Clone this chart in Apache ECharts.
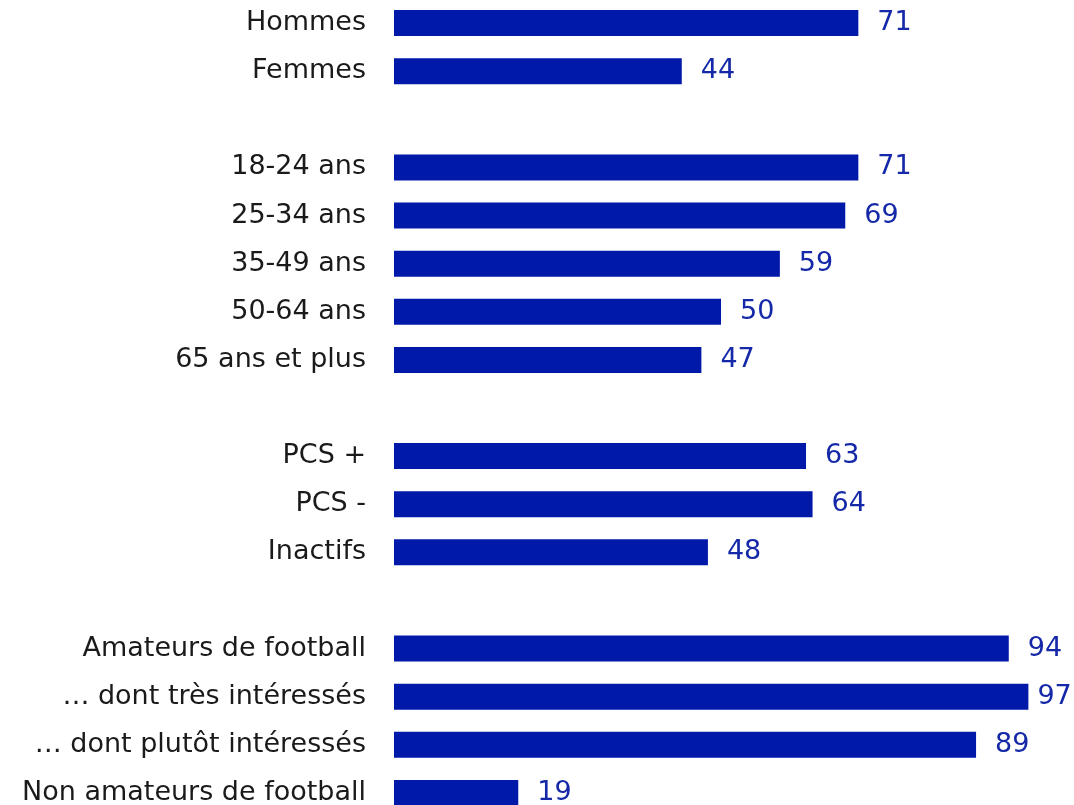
<!DOCTYPE html>
<html>
<head>
<meta charset="utf-8">
<script src="https://cdn.jsdelivr.net/npm/echarts@6/dist/echarts.min.js"></script>
<style>
  html, body { margin: 0; padding: 0; background: #ffffff; }
  #chart { width: 1074px; height: 805px; }
</style>
</head>
<body>
<div id="chart"></div>
<script>
// Rows from top to bottom; blank entries separate the groups
const categories = [
  'Hommes', 'Femmes', '',
  '18-24 ans', '25-34 ans', '35-49 ans', '50-64 ans', '65 ans et plus', ' ',
  'PCS +', 'PCS -', 'Inactifs', '  ',
  'Amateurs de football', '… dont très intéressés', '… dont plutôt intéressés', 'Non amateurs de football'
];
const values = [
  71, 44, null,
  71, 69, 59, 50, 47, null,
  63, 64, 48, null,
  94, 97, 89, 19
];

const BAR = '#0019a8';
const FONT = 'DejaVu Sans';

// labels of the longest bars sit closer so they stay inside the canvas
const seriesData = values.map(v =>
  v !== null && v > 95 ? { value: v, label: { distance: 9 } } : v
);

const chart = echarts.init(document.getElementById('chart'), null, { renderer: 'canvas' });
chart.setOption({
  animation: false,
  backgroundColor: '#ffffff',
  grid: {
    left: 394, width: 654, top: -1, height: 818,
    containLabel: false,
    outerBoundsMode: 'none'
  },
  xAxis: {
    type: 'value', min: 0, max: 100,
    show: false
  },
  yAxis: {
    type: 'category',
    data: categories,
    inverse: true,
    axisLine: { show: false },
    axisTick: { show: false },
    splitLine: { show: false },
    axisLabel: {
      margin: 28,
      color: '#1a1a1a',
      fontFamily: FONT,
      fontSize: 27
    }
  },
  series: [{
    type: 'bar',
    data: seriesData,
    barWidth: 26,
    itemStyle: { color: BAR },
    label: {
      show: true,
      position: 'right',
      distance: 19,
      color: '#1428a8',
      fontFamily: FONT,
      fontSize: 27
    }
  }]
});
</script>
</body>
</html>
